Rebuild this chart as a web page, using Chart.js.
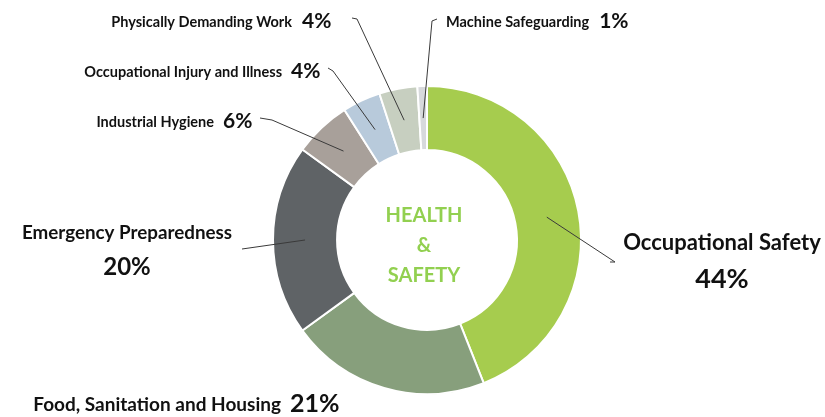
<!DOCTYPE html>
<html>
<head>
<meta charset="utf-8">
<script src="https://cdn.jsdelivr.net/npm/chart.js@4"></script>
<style>
  html, body { margin: 0; padding: 0; background: #fff; }
  #wrap { width: 825px; height: 417px; }
</style>
</head>
<body>
<div id="wrap"><canvas id="hsChart" width="825" height="417"></canvas></div>
<script>
// data
const categories = [
  "Occupational Safety",
  "Food, Sanitation and Housing",
  "Emergency Preparedness",
  "Industrial Hygiene",
  "Occupational Injury and Illness",
  "Physically Demanding Work",
  "Machine Safeguarding"
];
const shares = [44, 21, 20, 6, 4, 4, 1];
const sliceColors = ["#a6cc4e", "#879f7c", "#5f6366", "#a8a09a", "#b8cadb", "#c7cfc0", "#d7d9dc"];
const centerLines = ["HEALTH", "&", "SAFETY"];

// where each callout goes (text + leader line)
const callouts = [
  { type: "stack", x: 722, y: 243, nameSize: 22, pctSize: 27, pctY: 279, line: [[610, 262], [615, 262]] },
  { type: "row", x: 281, y: 405, nameSize: 19, pctSize: 25, gap: 9, line: null },
  { type: "stack", x: 127, y: 233, nameSize: 18.8, pctSize: 24, pctY: 267, line: [[242, 249]] },
  { type: "row", x: 214, y: 122, nameSize: 14.5, pctSize: 21, gap: 9, line: [[260, 118], [272, 120]] },
  { type: "row", x: 282, y: 72, nameSize: 14.5, pctSize: 21, gap: 9, line: [[328, 68], [333, 71]] },
  { type: "row", x: 292, y: 22, nameSize: 14.5, pctSize: 21, gap: 10, line: [[352, 18], [357, 19]] },
  { type: "rowLeft", x: 446, y: 22, nameSize: 14.5, pctSize: 21, gap: 10, line: [[437, 19], [432, 21]] }
];

const FONT = "Lato, 'Open Sans', sans-serif";

const calloutPlugin = {
  id: "callouts",
  afterDraw(chart) {
    const ctx = chart.ctx;
    const meta = chart.getDatasetMeta(0);
    ctx.save();

    // leader lines
    ctx.strokeStyle = "#3a3a3a";
    ctx.lineWidth = 1;
    meta.data.forEach((arc, i) => {
      const c = callouts[i];
      if (!c.line) return;
      const p = arc.getProps(["x", "y", "startAngle", "endAngle", "innerRadius", "outerRadius"], true);
      const a = (p.startAngle + p.endAngle) / 2;
      const r = (p.innerRadius + p.outerRadius) / 2;
      ctx.beginPath();
      ctx.moveTo(p.x + r * Math.cos(a), p.y + r * Math.sin(a));
      for (let k = c.line.length - 1; k >= 0; k--) {
        ctx.lineTo(c.line[k][0], c.line[k][1]);
      }
      ctx.stroke();
    });

    // labels
    ctx.fillStyle = "#111";
    ctx.textBaseline = "middle";
    categories.forEach((name, i) => {
      const c = callouts[i];
      const pct = shares[i] + "%";
      if (c.type === "stack") {
        ctx.textAlign = "center";
        ctx.font = "bold " + c.nameSize + "px " + FONT;
        ctx.fillText(name, c.x, c.y);
        ctx.font = "bold " + c.pctSize + "px " + FONT;
        ctx.fillText(pct, c.x, c.pctY);
      } else if (c.type === "row") {
        ctx.textAlign = "right";
        ctx.font = "bold " + c.nameSize + "px " + FONT;
        ctx.fillText(name, c.x, c.y);
        ctx.textAlign = "left";
        ctx.font = "bold " + c.pctSize + "px " + FONT;
        ctx.fillText(pct, c.x + c.gap, c.y - 1);
      } else {
        ctx.textAlign = "left";
        ctx.font = "bold " + c.nameSize + "px " + FONT;
        ctx.fillText(name, c.x, c.y);
        const w = ctx.measureText(name).width;
        ctx.font = "bold " + c.pctSize + "px " + FONT;
        ctx.fillText(pct, c.x + w + c.gap, c.y - 1);
      }
    });

    // center title
    const p0 = meta.data[0];
    ctx.textAlign = "center";
    ctx.fillStyle = "#92d050";
    ctx.font = "bold 20px " + FONT;
    centerLines.forEach((t, k) => {
      ctx.fillText(t, p0.x - 3, p0.y - 24 + k * 30);
    });
    ctx.restore();
  }
};

new Chart(document.getElementById("hsChart"), {
  type: "doughnut",
  data: {
    labels: categories,
    datasets: [{
      data: shares,
      backgroundColor: sliceColors,
      borderColor: "#ffffff",
      borderWidth: 2,
      hoverOffset: 0
    }]
  },
  options: {
    responsive: false,
    animation: false,
    radius: 154,
    cutout: "58.4%",
    layout: { padding: { left: 29, right: 0, top: 63, bottom: 0 } },
    plugins: {
      legend: { display: false },
      tooltip: { enabled: false }
    }
  },
  plugins: [calloutPlugin]
});
</script>
</body>
</html>
